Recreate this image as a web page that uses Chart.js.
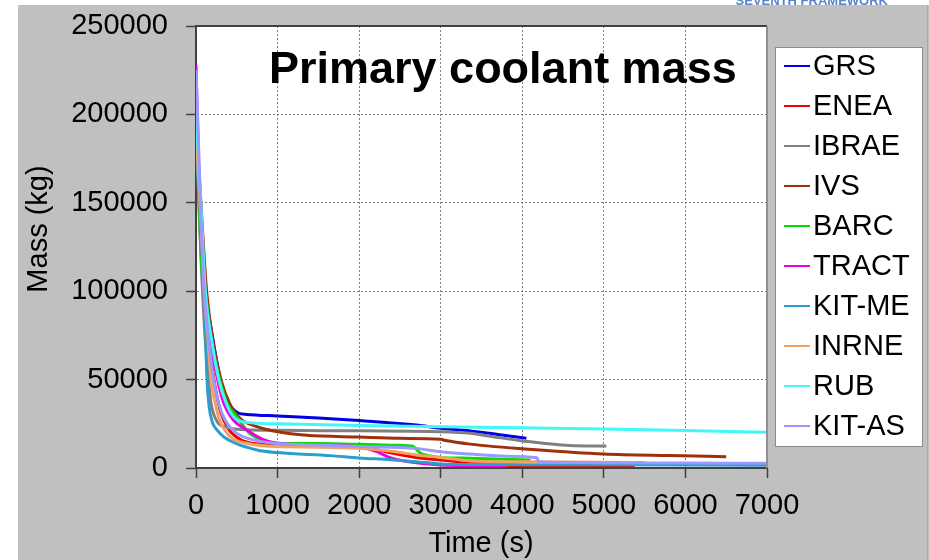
<!DOCTYPE html>
<html><head><meta charset="utf-8">
<script src="https://cdn.jsdelivr.net/npm/chart.js@4.4.1/dist/chart.umd.min.js"></script>
<style>html,body{margin:0;padding:0;background:#fff;}canvas{display:block;}</style>
</head><body>
<canvas id="c" width="929" height="560"></canvas>
<script>
// ---- data (time in s, mass in kg) ----
const seriesNames = ['GRS','ENEA','IBRAE','IVS','BARC','TRACT','KIT-ME','INRNE','RUB','KIT-AS'];

const grsTime  = [0,60,120,200,300,380,450,520,624,1000,1500,2000,2700,3000,3360,3700,4050];
const grsMass  = [187000,140000,100000,75000,50000,38000,33500,31000,30300,29400,28300,26800,24300,22500,21000,19000,16800];

const eneaTime = [0,90,150,220,300,400,550,800,1000,1500,2000,2200,2400,2700,3000,3360,3800,4200,5000,5380];
const eneaMass = [200000,110000,75000,50000,32000,22000,16000,13500,13000,12500,11500,10500,8500,6000,4500,3000,1500,900,800,700];

const ibraeTime = [0,60,110,155,183,250,380,540,1000,2000,3000,3360,3600,4000,4580,5030];
const ibraeMass = [190000,120000,75000,50000,37000,27000,23000,21800,21300,21000,20500,19600,18000,15300,12700,12400];

const ivsTime = [0,60,130,220,306,412,542,746,1000,1358,2000,2500,3000,3060,3360,4170,5000,5800,6500];
const ivsMass = [195000,150000,100000,68000,50000,36600,28000,23400,20500,18500,17500,16800,16200,15500,13500,10300,7900,7000,6400];

const barcTime = [0,73,113,155,216,290,380,500,650,800,1000,1500,2000,2500,2650,2750,2850,3000,3360,4100];
const barcMass = [200000,112000,100000,83700,65000,50000,36600,29000,20000,16000,14000,13800,13400,12800,12400,8500,7000,6000,5500,4500];

const tractTime = [0,40,90,150,265,338,460,624,828,1000,1358,2000,2200,2400,2700,3000,3360,3800];
const tractMass = [228000,160000,110000,80000,50000,37000,27000,21500,16000,14000,13000,12000,9500,5500,3000,1700,1300,1100];

const kitmeTime = [0,60,95,120,135,160,200,257,338,481,746,1000,1644,2000,2380,2700,3000,3400,4000,5000,6000,7000];
const kitmeMass = [185000,140000,105000,70000,50000,35000,26000,21500,17700,14000,10200,8700,7000,5700,4700,3600,2300,2000,1900,1800,1700,1600];

const inrneTime = [0,60,100,150,183,236,290,420,624,1000,1500,2000,2400,2700,3000,3360,4000,5000,5500];
const inrneMass = [190000,140000,100000,70000,50000,36600,27000,17700,14000,12100,11800,11100,9500,7400,6000,4000,3500,3300,3100];

const rubTime = [0,60,115,200,280,370,460,624,1000,2000,3000,4000,5000,6000,7000];
const rubMass = [200000,150000,100000,70000,50000,36600,29000,25800,25000,24000,23400,22700,22000,21200,20200];

const kitasTime = [0,93,150,216,277,358,500,705,1000,1500,2000,2700,3000,3360,3800,4180,4200,5000,6000,7000];
const kitasMass = [225000,106000,75000,50000,36600,27000,19600,15900,13800,13000,12100,11100,9200,7900,6700,5800,3500,3000,2800,2700];

const xTickValues = [0,1000,2000,3000,4000,5000,6000,7000];
const yTickValues = [0,50000,100000,150000,200000,250000];

// ---- styles ----
const seriesColors = ['#0000e6','#f00000','#808080','#a0300a','#00e000','#f000e0','#2b9fcc','#f4a060','#40f8f8','#9999ff'];
const FONT = '"Liberation Sans", Arial, Helvetica, sans-serif';

const timeArrays = [grsTime,eneaTime,ibraeTime,ivsTime,barcTime,tractTime,kitmeTime,inrneTime,rubTime,kitasTime];
const massArrays = [grsMass,eneaMass,ibraeMass,ivsMass,barcMass,tractMass,kitmeMass,inrneMass,rubMass,kitasMass];

const datasets = seriesNames.map((name, i) => ({
  label: name,
  data: timeArrays[i].map((t, k) => ({x: t, y: massArrays[i][k]})),
  borderColor: seriesColors[i],
  backgroundColor: seriesColors[i],
  borderWidth: 3,
  pointRadius: 0,
  fill: false,
  cubicInterpolationMode: 'monotone',
  order: seriesNames.length - i
}));

const decor = {
  id: 'decor',
  beforeDraw(chart) {
    const ctx = chart.ctx, a = chart.chartArea;
    ctx.save();
    ctx.fillStyle = '#ffffff'; ctx.fillRect(0, 0, chart.width, chart.height);
    ctx.fillStyle = '#c0c0c0'; ctx.fillRect(18, 5, chart.width - 18, chart.height - 5);
    ctx.fillStyle = '#ffffff'; ctx.fillRect(a.left, a.top, a.right - a.left, a.bottom - a.top);
    ctx.fillStyle = '#5a86c8';
    ctx.font = 'bold 13px ' + FONT;
    ctx.textAlign = 'right'; ctx.textBaseline = 'alphabetic';
    ctx.fillText('SEVENTH FRAMEWORK', 888, 5);
    ctx.strokeStyle = '#a8a8a8'; ctx.lineWidth = 1;
    ctx.beginPath(); ctx.moveTo(927.5, 5); ctx.lineTo(927.5, 560); ctx.stroke();
    ctx.restore();
  },
  afterDraw(chart) {
    const ctx = chart.ctx, a = chart.chartArea;
    ctx.save();
    // plot frame (top / right)
    ctx.strokeStyle = '#404040'; ctx.lineWidth = 2;
    ctx.beginPath(); ctx.moveTo(a.left, a.top); ctx.lineTo(a.right, a.top); ctx.stroke();
    ctx.strokeStyle = '#909090';
    ctx.beginPath(); ctx.moveTo(a.right, a.top); ctx.lineTo(a.right, a.bottom); ctx.stroke();
    // chart title
    ctx.fillStyle = '#000';
    ctx.font = 'bold 45px ' + FONT;
    ctx.textAlign = 'left'; ctx.textBaseline = 'alphabetic';
    ctx.fillText('Primary coolant mass', 269, 83);
    // axis titles
    ctx.font = '29px ' + FONT;
    ctx.textAlign = 'center';
    ctx.fillText('Time (s)', 481, 552);
    ctx.save();
    ctx.translate(47, 229);
    ctx.rotate(-Math.PI / 2);
    ctx.fillText('Mass (kg)', 0, 0);
    ctx.restore();
    // legend
    ctx.fillStyle = '#ffffff';
    ctx.fillRect(775, 47, 148, 400);
    ctx.strokeStyle = '#8c8c8c'; ctx.lineWidth = 1;
    ctx.strokeRect(775.5, 47.5, 147, 399);
    ctx.font = '29px ' + FONT;
    ctx.textAlign = 'left';
    chart.data.datasets.forEach((ds, i) => {
      const y = 66 + 40 * i;
      ctx.strokeStyle = ds.borderColor; ctx.lineWidth = 2;
      ctx.beginPath(); ctx.moveTo(784, y); ctx.lineTo(810, y); ctx.stroke();
      ctx.fillStyle = '#000';
      ctx.fillText(ds.label, 813, 75 + 40 * i);
    });
    ctx.restore();
  }
};

new Chart(document.getElementById('c'), {
  type: 'line',
  data: { datasets },
  options: {
    responsive: false,
    animation: false,
    devicePixelRatio: 1,
    layout: { padding: { left: 0, right: 162, top: 26, bottom: 0 } },
    plugins: { legend: { display: false }, tooltip: { enabled: false } },
    scales: {
      x: {
        type: 'linear', min: 0, max: 7000,
        afterFit(s) { s.height = 92; s.paddingLeft = 0; s.paddingRight = 0; },
        afterBuildTicks(s) { s.ticks = xTickValues.map(v => ({value: v})); },
        ticks: { color: '#000', padding: 11, maxRotation: 0, font: { family: FONT, size: 29 }, callback: v => String(v) },
        grid: { color: '#808080', lineWidth: 1, tickLength: 10, tickColor: '#404040', tickWidth: 1.5, tickBorderDash: [] },
        border: { color: '#404040', width: 2, dash: [2, 2] }
      },
      y: {
        type: 'linear', min: 0, max: 250000,
        afterFit(s) { s.width = 196; s.paddingTop = 0; s.paddingBottom = 0; },
        afterBuildTicks(s) { s.ticks = yTickValues.map(v => ({value: v})); },
        ticks: { color: '#000', padding: 18, font: { family: FONT, size: 29 }, callback: v => String(v) },
        grid: { color: '#808080', lineWidth: 1, tickLength: 10, tickColor: '#404040', tickWidth: 1.5, tickBorderDash: [] },
        border: { color: '#404040', width: 2, dash: [2, 2] }
      }
    }
  },
  plugins: [decor]
});
</script>
</body></html>
